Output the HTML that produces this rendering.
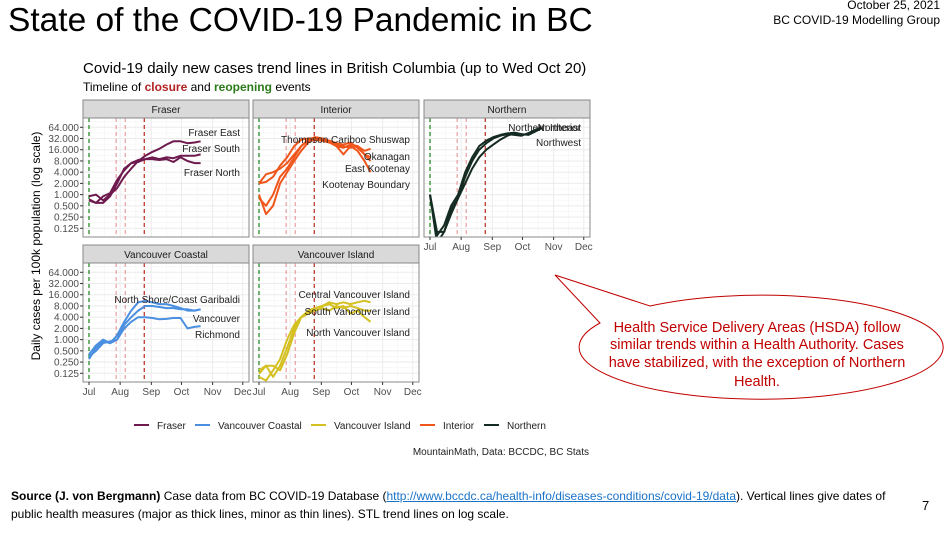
<!DOCTYPE html>
<html><head><meta charset="utf-8"><style>
body{margin:0;width:952px;height:533px;overflow:hidden;background:#fff;font-family:"Liberation Sans",sans-serif;position:relative}
.abs{position:absolute;white-space:nowrap}
</style></head><body>
<div class="abs" style="left:8px;top:2px;font-size:33.5px;color:#000">State of the COVID-19 Pandemic in BC</div>
<div class="abs" style="right:12px;top:-2px;font-size:12px;text-align:right;line-height:15px">October 25, 2021<br>BC COVID-19 Modelling Group</div>
<svg id="chart" width="952" height="533" style="position:absolute;left:0;top:0" font-family="Liberation Sans, sans-serif"></svg>
<div class="abs" style="left:11px;top:487px;font-size:12px;line-height:18px;color:#000"><b>Source (J. von Bergmann)</b> Case data from BC COVID-19 Database (<span style="color:#1a73c8;text-decoration:underline">http://www.bccdc.ca/health-info/diseases-conditions/covid-19/data</span>). Vertical lines give dates of<br>public health measures (major as thick lines, minor as thin lines). STL trend lines on log scale.</div>
<div class="abs" style="left:922px;top:498px;font-size:13px">7</div>
<script>
const days=[0,7,14,21,28,35,42,49,56,63,70,77,84,91,98,105,111];
const fraserEast=[0.9,1.0,0.7,1.0,1.5,3,5,8,11,14,17,22,27,27,24,25,27];
const fraserSouth=[0.7,0.6,0.9,1.1,2.5,4.5,7,8.5,9,10,9,10,9.5,11,11,11,12];
const fraserNorth=[0.75,0.6,0.6,0.9,2,5,7,7.5,9,9,8.5,9,7.5,10,8,7,7];
const thompson=[2,2.2,3,6,10,20,30,32,30,28,25,22,20,18,20,15,17];
const okanagan=[2,3.5,4,5,7,12,20,28,30,28,25,20,18,22,20,12,10];
const eastKootenay=[1,0.3,0.5,2,4,8,15,25,32,30,28,20,12,20,15,8,4];
const kootenayBoundary=[0.8,0.5,1,3,5,10,20,30,35,32,28,24,22,25,18,12,8];
const northeast=[1,0.1,0.1,0.4,0.8,3,8,16,24,32,38,42,40,38,45,55,64];
const northernInterior=[1,0.08,0.15,0.5,1,4,10,20,28,35,40,44,46,42,40,50,64];
const northwest=[1,0.05,0.1,0.3,0.8,2,5,10,16,22,30,38,44,40,42,50,60];
const nscg=[0.3,0.6,0.9,0.8,1.3,3,6,10,11,10,9,9,8,7,6,6,6.5];
const vancouver=[0.35,0.5,0.8,0.9,1.0,2.5,4,6,8,8,7.5,7,7,6.5,6.5,6,6.5];
const richmond=[0.4,0.7,1,0.8,1,2,3,4,4,3.8,3.5,3.6,3.8,3.8,2,2.2,2.3];
const centralVI=[0.15,0.2,0.2,0.15,0.4,1.5,4,6,7,8,10,9,10,9,10,11,10];
const southVI=[0.12,0.2,0.1,0.2,0.6,2,4,5,6,7,6,8,7,8,7,6,6];
const northVI=[0.1,0.08,0.15,0.3,1.0,2.5,4,5,7,8,9,7,8,5,6,4,3];
const yTicks=[64,32,16,8,4,2,1,0.5,0.25,0.125];
const yTickLabels=["64.000","32.000","16.000","8.000","4.000","2.000","1.000","0.500","0.250","0.125"];
const monthDays=[0,31,62,92,123,153];
const monthLabels=["Jul","Aug","Sep","Oct","Nov","Dec"];
const eventDays=[0,27,36,55];

const svg=document.getElementById('chart');const NS='http://www.w3.org/2000/svg';
function mk(t,a,p){const e=document.createElementNS(NS,t);for(const k in a)e.setAttribute(k,a[k]);(p||svg).appendChild(e);return e;}
function tx(x,y,s,size,anchor,fill,p,weight){const e=mk('text',{x:x,y:y,'font-size':size,'text-anchor':anchor||'start',fill:fill||'#000'},p);if(weight)e.setAttribute('font-weight',weight);e.textContent=s;return e;}

let t=tx(83,73,'Covid-19 daily new cases trend lines in British Columbia (up to Wed Oct 20)',15);


const sub=mk('text',{x:83,y:91,'font-size':12});


sub.innerHTML='Timeline of <tspan fill="#b22222" font-weight="bold">closure</tspan> and <tspan fill="#2a7a1a" font-weight="bold">reopening</tspan> events';

const colors={Fraser:'#6e1a4e',VC:'#4a8fe0',VI:'#d4c020',Int:'#f0561c',N:'#142b22'};
const panels=[
 {name:'Fraser',x:83,y:100,c:colors.Fraser,series:[fraserEast,fraserSouth,fraserNorth],labels:[['Fraser East',132],['Fraser South',148],['Fraser North',172]],yax:true,xax:false},
 {name:'Interior',x:253,y:100,c:colors.Int,series:[thompson,okanagan,eastKootenay,kootenayBoundary],labels:[['Thompson Cariboo Shuswap',139],['Okanagan',156],['East Kootenay',168],['Kootenay Boundary',184]],yax:false,xax:false},
 {name:'Northern',x:424,y:100,c:colors.N,series:[northeast,northernInterior,northwest],labels:[['Northern Interior',127],['Northeast',127],['Northwest',142]],yax:false,xax:true},
 {name:'Vancouver Coastal',x:83,y:245,c:colors.VC,series:[nscg,vancouver,richmond],labels:[['North Shore/Coast Garibaldi',299],['Vancouver',318],['Richmond',334]],yax:true,xax:true},
 {name:'Vancouver Island',x:253,y:245,c:colors.VI,series:[centralVI,southVI,northVI],labels:[['Central Vancouver Island',294],['South Vancouver Island',311],['North Vancouver Island',332]],yax:false,xax:true}
];
const W=166,SH=18,PH=119;
let cid=0;
panels.forEach(p=>{
 const g=mk('g',{});
 
 
 const top=p.y+SH,bot=top+PH;
 const xs=d=>p.x+6+d*1.005;
 const ys=v=>top+9.3+(6-Math.log2(v))*11.22;
 mk('rect',{x:p.x,y:top,width:W,height:PH,fill:'#fff'},g);
 for(let i=0;i<monthDays.length;i++){
  mk('line',{x1:xs(monthDays[i]),x2:xs(monthDays[i]),y1:top,y2:bot,stroke:'#ebebeb','stroke-width':1},g);
  if(i<monthDays.length-1){const m=xs((monthDays[i]+monthDays[i+1])/2);mk('line',{x1:m,x2:m,y1:top,y2:bot,stroke:'#f4f4f4','stroke-width':0.6},g);}
 }
 yTicks.forEach(v=>{mk('line',{x1:p.x,x2:p.x+W,y1:ys(v),y2:ys(v),stroke:'#ebebeb','stroke-width':1},g);mk('line',{x1:p.x,x2:p.x+W,y1:ys(v*1.414),y2:ys(v*1.414),stroke:'#f4f4f4','stroke-width':0.6},g);});
 eventDays.forEach((d,i)=>{
  const c=i==0?'#2a8a2a':(i==3?'#c0392b':'#e08080');
  mk('line',{x1:xs(d),x2:xs(d),y1:top,y2:bot,stroke:c,'stroke-width':i==0||i==3?1.3:0.9,'stroke-dasharray':'4,3'},g);
 });
 const cp='cp'+(cid++);
 const cl=mk('clipPath',{id:cp},g);mk('rect',{x:p.x,y:top,width:W,height:PH},cl);
 p.series.forEach((s,si)=>{
  const dstr=s.map((v,i)=>(i?'L':'M')+xs(days[i]).toFixed(1)+','+ys(v).toFixed(1)).join(' ');
  const pa=mk('path',{d:dstr,fill:'none',stroke:p.c,'stroke-width':2,'stroke-linejoin':'round','clip-path':'url(#'+cp+')'},g);
  
  
 });
 p.labels.forEach(l=>{tx(p.x+W-9,l[1]+4,l[0],10,'end','#222',g);});
 mk('rect',{x:p.x,y:top,width:W,height:PH,fill:'none',stroke:'#888','stroke-width':1},g);
 mk('rect',{x:p.x,y:p.y,width:W,height:SH,fill:'#d9d9d9',stroke:'#888','stroke-width':1},g);
 tx(p.x+W/2,p.y+13,p.name,10,'middle','#1a1a1a',g);
 if(p.yax){yTicks.forEach((v,i)=>{mk('line',{x1:p.x-3,x2:p.x,y1:ys(v),y2:ys(v),stroke:'#333'},g);tx(p.x-4,ys(v)+3.5,yTickLabels[i],10,'end','#4d4d4d',g);});}
 if(p.xax){monthDays.forEach((d,i)=>{mk('line',{x1:xs(d),x2:xs(d),y1:bot,y2:bot+3,stroke:'#333'},g);tx(xs(d),bot+13,monthLabels[i],10,'middle','#4d4d4d',g);});}
});
t=mk('text',{x:40,y:246,'font-size':12,'text-anchor':'middle',transform:'rotate(-90 40 246)'});t.textContent='Daily cases per 100k population (log scale)';


const leg=[['Fraser',colors.Fraser,134],['Vancouver Coastal',colors.VC,195],['Vancouver Island',colors.VI,311],['Interior',colors.Int,420],['Northern',colors.N,484]];
leg.forEach(l=>{const g=mk('g',{});
 
 
 mk('line',{x1:l[2],x2:l[2]+15,y1:425,y2:425,stroke:l[1],'stroke-width':2},g);tx(l[2]+23,429,l[0],10,'start','#222',g);});
t=tx(589,455,'MountainMath, Data: BCCDC, BC Stats',10,'end','#222');


const call=mk('path',{d:'M 600 323 L 555 275 L 650 306 A 182 52 0 1 1 600 323 Z',fill:'#fff',stroke:'#c00000','stroke-width':1});


const ct=mk('text',{'font-size':14.5,fill:'#c00000','text-anchor':'middle'});


[['Health Service Delivery Areas (HSDA) follow',332],['similar trends within a Health Authority. Cases',349],['have stabilized, with the exception of Northern',367],['Health.',386]].forEach(l=>{const s=mk('tspan',{x:757,y:l[1]},ct);s.textContent=l[0];});
</script>
</body></html>
